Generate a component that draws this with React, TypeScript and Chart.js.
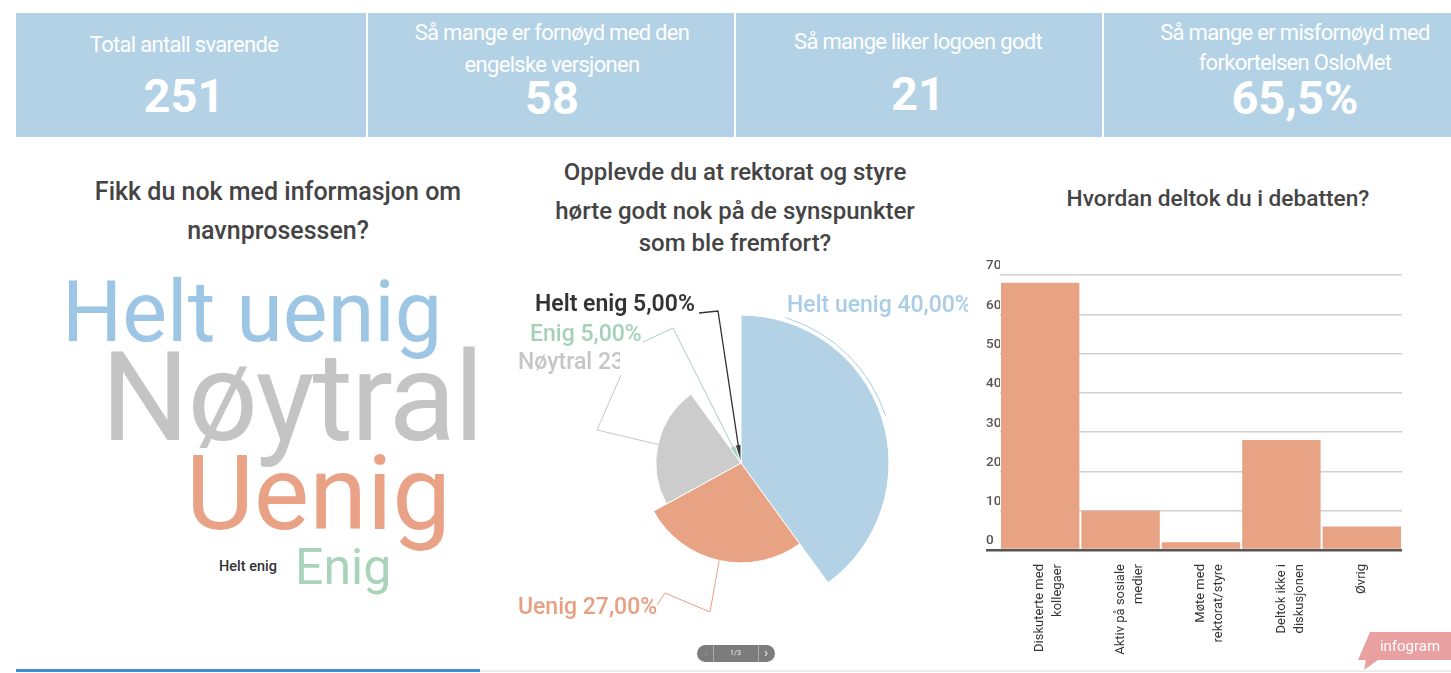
import React, { useEffect, useRef } from "react";
import { Chart, registerables } from "chart.js";

Chart.register(...registerables);

// ---------- DATA ----------
const headerTitles: string[][] = [
  ["Total antall svarende"],
  ["Så mange er fornøyd med den", "engelske versjonen"],
  ["Så mange liker logoen godt"],
  ["Så mange er misfornøyd med", "forkortelsen OsloMet"],
];
const headerValues: string[] = ["251", "58", "21", "65,5%"];

const cloudTitle = ["Fikk du nok med informasjon om", "navnprosessen?"];
const cloudWords: string[] = ["Helt uenig", "Nøytral", "Uenig", "Enig", "Helt enig"];

const pieTitle = ["Opplevde du at rektorat og styre", "hørte godt nok på de synspunkter", "som ble fremfort?"];
const pieLabels: string[] = ["Helt uenig", "Uenig", "Nøytral", "Enig", "Helt enig"];
const pieValues: number[] = [40, 27, 23, 5, 5];
const piePercentText: string[] = ["40,00%", "27,00%", "23,00%", "5,00%", "5,00%"];

const barTitle = "Hvordan deltok du i debatten?";
const barCategories: string[][] = [
  ["Diskuterte med", "kollegaer"],
  ["Aktiv på sosiale", "medier"],
  ["Møte med", "rektorat/styre"],
  ["Deltok ikke i", "diskusjonen"],
  ["Øvrig"],
];
const barValues: number[] = [68, 10, 2, 28, 6];
const barAxisMax = 70;
const barAxisStep = 10;

// ---------- STYLES ----------
const FONT = "Roboto, 'Noto Sans', sans-serif";
const pieColors = ["#b4d2e6", "#e8a385", "#cccccc", "#a9d4bf", "#37474f"];
const pieTextColors = ["#a9cde6", "#e8a084", "#c6c6c6", "#a6d1b9", "#333333"];
const cloudColors = ["#9cc6e3", "#c4c4c4", "#e9a286", "#a9d3bb", "#333333"];
const barColor = "#e8a385";

// page-space layout of the pie canvas
const PIE_LEFT = 495;
const PIE_TOP = 270;
const PIE_W = 473;
const PIE_H = 370;

// label layout (page coordinates) for the pie annotations, index = pieLabels
const pieLabelLayout = [
  { x: 787, y: 306, weight: "500", clip: null as number | null, path: [] as number[][], arcFrom: 17 as number | null },
  { x: 518, y: 608, weight: "500", clip: null, path: [[657, 605], [665, 593], [710, 612]], arcFrom: null },
  { x: 518, y: 363, weight: "500", clip: 620, path: [[621, 375], [597, 430]], arcFrom: null },
  { x: 530, y: 335, weight: "500", clip: null, path: [[643, 342], [673, 328]], arcFrom: null },
  { x: 535, y: 305, weight: "600", clip: null, path: [[699, 313], [718, 311]], arcFrom: null },
];

const pieLabelPlugin = {
  id: "pieLabels",
  afterDatasetsDraw(chart: any) {
    const ctx = chart.ctx as CanvasRenderingContext2D;
    const meta = chart.getDatasetMeta(0);
    ctx.save();
    meta.data.forEach((el: any, i: number) => {
      const lay = pieLabelLayout[i];
      const props = el.getProps(["x", "y", "startAngle", "endAngle", "outerRadius"], true);
      const mid = (props.startAngle + props.endAngle) / 2;
      const small = props.outerRadius < 30;
      const rEnd = small ? props.outerRadius * 0.55 : props.outerRadius;
      const ex = props.x + Math.cos(mid) * rEnd;
      const ey = props.y + Math.sin(mid) * rEnd;
      ctx.strokeStyle = pieTextColors[i];
      ctx.lineWidth = i === 4 ? 1.3 : 1;
      ctx.beginPath();
      if (lay.arcFrom !== null) {
        const a0 = ((lay.arcFrom - 90) * Math.PI) / 180;
        ctx.arc(props.x, props.y, props.outerRadius + 4, a0, mid);
      } else {
        lay.path.forEach((p, k) => {
          const px = p[0] - PIE_LEFT;
          const py = p[1] - PIE_TOP;
          if (k === 0) ctx.moveTo(px, py);
          else ctx.lineTo(px, py);
        });
        ctx.lineTo(ex, ey);
      }
      ctx.stroke();

      ctx.save();
      if (lay.clip !== null) {
        ctx.beginPath();
        ctx.rect(0, 0, lay.clip - PIE_LEFT, PIE_H);
        ctx.clip();
      }
      ctx.fillStyle = pieTextColors[i];
      ctx.font = `${lay.weight} 23px ${FONT}`;
      ctx.textAlign = "left";
      ctx.textBaseline = "middle";
      ctx.fillText(`${pieLabels[i]} ${piePercentText[i]}`, lay.x - PIE_LEFT, lay.y - PIE_TOP);
      ctx.restore();
    });
    ctx.restore();
  },
};

function PieChart() {
  const ref = useRef<HTMLCanvasElement>(null);
  useEffect(() => {
    const total = pieValues.reduce((a, b) => a + b, 0);
    const angles = pieValues.map((v) => (v / total) * 360);
    const chart = new Chart(ref.current as HTMLCanvasElement, {
      type: "polarArea",
      data: {
        labels: pieLabels,
        datasets: [
          {
            data: pieValues,
            backgroundColor: pieColors,
            borderColor: "#ffffff",
            borderWidth: 1,
            angle: (c: any) => angles[c.dataIndex],
          } as any,
        ],
      },
      options: {
        animation: false,
        responsive: false,
        layout: { padding: { left: 98, right: 79, top: 45, bottom: 29 } },
        plugins: { legend: { display: false }, tooltip: { enabled: false } },
        scales: {
          r: { display: false, min: 0, max: Math.max(...pieValues), startAngle: 0 } as any,
        },
      },
      plugins: [pieLabelPlugin],
    });
    return () => chart.destroy();
  }, []);
  return (
    <canvas
      ref={ref}
      width={PIE_W}
      height={PIE_H}
      style={{ position: "absolute", left: PIE_LEFT, top: PIE_TOP, width: PIE_W, height: PIE_H }}
    />
  );
}

function BarChart() {
  const ref = useRef<HTMLCanvasElement>(null);
  useEffect(() => {
    const chart = new Chart(ref.current as HTMLCanvasElement, {
      type: "bar",
      data: {
        labels: barCategories as any,
        datasets: [
          {
            data: barValues,
            backgroundColor: barColor,
            borderWidth: 0,
            barPercentage: 0.975,
            categoryPercentage: 1,
          },
        ],
      },
      options: {
        animation: false,
        responsive: false,
        layout: { padding: { top: 20, right: 0, bottom: 0, left: 0 } },
        plugins: { legend: { display: false }, tooltip: { enabled: false } },
        scales: {
          x: {
            grid: { display: false },
            border: { display: false },
            ticks: {
              minRotation: 90,
              maxRotation: 90,
              padding: 6,
              color: "#333",
              font: { family: FONT, size: 13, lineHeight: 1.38 },
            },
            afterFit: (s: any) => {
              s.height = 110;
            },
          },
          y: {
            min: 0,
            max: barAxisMax,
            border: { display: false },
            grid: {
              color: (c: any) => (c.tick && c.tick.value === 0 ? "#555" : "#d0d0d0"),
              lineWidth: (c: any) => (c.tick && c.tick.value === 0 ? 2.5 : 1.5),
              drawTicks: true,
              tickLength: 14,
              tickColor: (c: any) => (c.tick && c.tick.value === 0 ? "#555" : "rgba(0,0,0,0)"),
            },
            ticks: {
              stepSize: barAxisStep,
              labelOffset: -9,
              crossAlign: "far",
              padding: 0,
              color: "#555",
              font: { family: FONT, size: 13.5, weight: "500" as any },
            },
            afterFit: (s: any) => {
              s.width = 14;
            },
          },
        },
      },
    });
    return () => chart.destroy();
  }, []);
  return (
    <canvas
      ref={ref}
      width={416}
      height={405}
      style={{ position: "absolute", left: 986, top: 255, width: 416, height: 405 }}
    />
  );
}

const abs = (o: React.CSSProperties): React.CSSProperties => ({ position: "absolute", ...o });

function Header() {
  const BAND_LEFT = 16;
  const centers = [184, 552, 918, 1295];
  const dividers = [367, 735, 1103];
  const titleTops = [[45], [33, 65], [42], [33, 63]];
  const valueCenters = [98, 100, 96, 100];
  return (
    <div style={abs({ left: BAND_LEFT, top: 13, width: 1451 - BAND_LEFT, height: 124, background: "#b4d2e5" })}>
      {headerTitles.map((lines, i) => (
        <React.Fragment key={i}>
          {lines.map((l, k) => (
            <div
              key={k}
              style={abs({
                left: centers[i] - BAND_LEFT - 200,
                width: 400,
                top: titleTops[i][k] - 13 - 14,
                textAlign: "center",
                color: "#fff",
                fontFamily: FONT,
                fontSize: 22,
                letterSpacing: -0.7,
                lineHeight: "28px",
                whiteSpace: "nowrap",
              })}
            >
              {l}
            </div>
          ))}
          <div
            style={abs({
              left: centers[i] - BAND_LEFT - 200,
              width: 400,
              top: valueCenters[i] - 13 - 30,
              textAlign: "center",
              color: "#fff",
              fontFamily: FONT,
              fontWeight: 700,
              fontSize: 47,
              lineHeight: "56px",
            })}
          >
            {headerValues[i]}
          </div>
        </React.Fragment>
      ))}
      {dividers.map((d) => (
        <div key={d} style={abs({ left: d - BAND_LEFT - 1, top: 0, width: 2, height: 124, background: "#fff" })} />
      ))}
    </div>
  );
}

function Title({ lines, cx, tops, lh, size }: { lines: string[]; cx: number; tops: number[]; lh: number; size: number }) {
  return (
    <>
      {lines.map((l, k) => (
        <div
          key={k}
          style={abs({
            left: cx - 250,
            width: 500,
            top: tops[k] - lh / 2,
            lineHeight: lh + "px",
            textAlign: "center",
            fontFamily: FONT,
            fontWeight: 500,
            fontSize: size,
            color: "#444",
            whiteSpace: "nowrap",
          })}
        >
          {l}
        </div>
      ))}
    </>
  );
}

function WordCloud() {
  // baseline (page y), left x, font size
  const place = [
    { x: 62, base: 342, size: 84.5, weight: 400, ls: 0 },
    { x: 101, base: 440, size: 124, weight: 400, ls: -2 },
    { x: 186, base: 530, size: 104.5, weight: 400, ls: 0 },
    { x: 295, base: 584, size: 50, weight: 400, ls: 0 },
    { x: 219, base: 572, size: 14.5, weight: 500, ls: 0 },
  ];
  return (
    <>
      {cloudWords.map((w, i) => (
        <div
          key={w}
          style={abs({
            left: place[i].x,
            top: place[i].base - 0.8415 * place[i].size,
            lineHeight: place[i].size + "px",
            fontFamily: FONT,
            fontSize: place[i].size,
            fontWeight: place[i].weight,
            color: cloudColors[i],
            whiteSpace: "nowrap",
            letterSpacing: place[i].ls,
          })}
        >
          {w}
        </div>
      ))}
    </>
  );
}

function Footer() {
  return (
    <>
      <div style={abs({ left: 480, top: 670, width: 971, height: 2, background: "#ececec" })} />
      <div style={abs({ left: 16, top: 669, width: 464, height: 3, background: "#3f8ccf" })} />
      <div
        style={abs({
          left: 697,
          top: 645,
          width: 78,
          height: 17,
          borderRadius: 9,
          background: "#7c7c7c",
          color: "#eee",
          fontFamily: FONT,
          fontSize: 7,
          lineHeight: "17px",
          textAlign: "center",
          overflow: "hidden",
        })}
      >
        <div style={abs({ left: 16, top: 0, width: 1, height: 17, background: "#aaa" })} />
        <div style={abs({ left: 61, top: 0, width: 1, height: 17, background: "#aaa" })} />
        <div style={abs({ left: 3, top: 0, width: 12, fontSize: 11, color: "#999" })}>‹</div>
        <div style={abs({ left: 16, top: 0, width: 45 })}>1/3</div>
        <div style={abs({ left: 62, top: 0, width: 14, fontSize: 12, color: "#fff" })}>›</div>
      </div>
      <svg style={abs({ left: 1350, top: 628, width: 101, height: 45 })} width={101} height={45}>
        <polygon points="8,32 20,4 101,4 101,32 28,32 14,42 16,32" fill="#e8a0a0" />
        <text x={60} y={23} textAnchor="middle" fill="#fff" fontFamily={FONT} fontSize={15}>
          infogram
        </text>
      </svg>
    </>
  );
}

export default function App() {
  return (
    <div
      style={{
        position: "absolute",
        left: 0,
        top: 0,
        width: 1451,
        height: 673,
        background: "#fff",
        overflow: "hidden",
        fontFamily: FONT,
      }}
    >
      <Header />
      <Title lines={cloudTitle} cx={278} tops={[191, 230]} lh={39} size={25} />
      <Title lines={pieTitle} cx={735} tops={[172, 211, 243]} lh={36} size={24} />
      <Title lines={[barTitle]} cx={1218} tops={[199]} lh={36} size={22.7} />
      <WordCloud />
      <PieChart />
      <BarChart />
      <Footer />
    </div>
  );
}
